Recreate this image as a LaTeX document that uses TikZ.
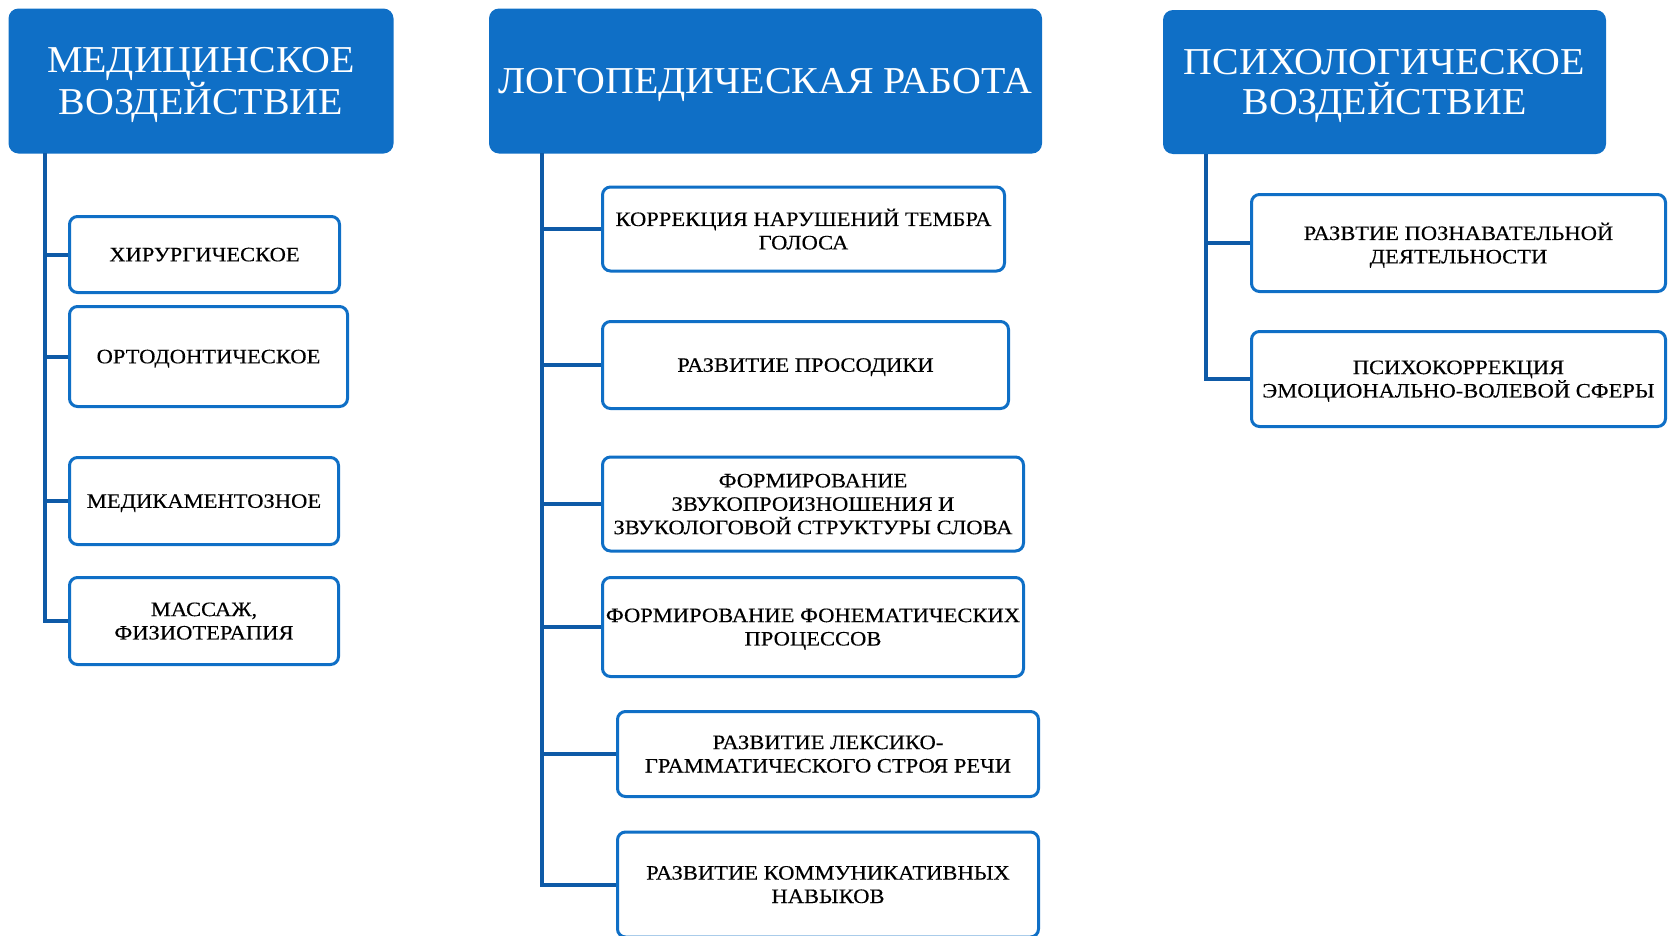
\documentclass[tikz,border=0pt]{standalone}
\usepackage{fontspec}
\setmainfont{Liberation Serif}[FakeStretch=1.1, FakeBold=0.3]
\newfontfamily\headfont{Liberation Serif}[FakeStretch=1.05]
\definecolor{hdrblue}{HTML}{0F6FC6}
\definecolor{lineblue}{HTML}{0E5AA7}
\tikzset{
  head/.style={fill=hdrblue, text=white, rounded corners=10pt, inner sep=0pt,
    align=center, text depth=0pt, font=\headfont\fontsize{38}{39.4}\selectfont},
  item/.style={draw=hdrblue, line width=3pt, fill=white, rounded corners=8pt,
    inner sep=0pt, align=center, text depth=0pt,
    font=\fontsize{20.5}{23.4}\selectfont},
  conn/.style={draw=lineblue, line width=4pt}
}
\begin{document}
\begin{tikzpicture}[x=1pt, y=-1pt]
  \clip (0,0) rectangle (1669,935);
  \node[head, minimum width=385pt, minimum height=145pt] (med) at (201,81)
    {МЕДИЦИНСКОЕ\\ВОЗДЕЙСТВИЕ};
  \node[head, minimum width=553pt, minimum height=145pt] (logo) at (765.5,81)
    {ЛОГОПЕДИЧЕСКАЯ РАБОТА};
  \node[head, minimum width=443pt, minimum height=144pt] (psy) at (1384.5,82)
    {ПСИХОЛОГИЧЕСКОЕ\\ВОЗДЕЙСТВИЕ};

  \node[item, minimum width=270pt, minimum height=76pt] (m1) at (204.5,254.5)
    {ХИРУРГИЧЕСКОЕ};
  \node[item, minimum width=278pt, minimum height=100pt] (m2) at (208.5,356.5)
    {ОРТОДОНТИЧЕСКОЕ};
  \node[item, minimum width=269pt, minimum height=87pt] (m3) at (204,501)
    {МЕДИКАМЕНТОЗНОЕ};
  \node[item, minimum width=269pt, minimum height=87pt] (m4) at (204,621)
    {МАССАЖ,\\ФИЗИОТЕРАПИЯ};

  \node[item, minimum width=402pt, minimum height=84pt] (l1) at (803.5,229)
    {КОРРЕКЦИЯ НАРУШЕНИЙ ТЕМБРА\\ГОЛОСА};
  \node[item, minimum width=406pt, minimum height=87pt] (l2) at (805.5,365)
    {РАЗВИТИЕ ПРОСОДИКИ};
  \node[item, minimum width=421pt, minimum height=94pt] (l3) at (813,504)
    {ФОРМИРОВАНИЕ\\ЗВУКОПРОИЗНОШЕНИЯ И\\ЗВУКОЛОГОВОЙ СТРУКТУРЫ СЛОВА};
  \node[item, minimum width=421pt, minimum height=99pt] (l4) at (813,627)
    {ФОРМИРОВАНИЕ ФОНЕМАТИЧЕСКИХ\\ПРОЦЕССОВ};
  \node[item, minimum width=421pt, minimum height=85pt] (l5) at (828,754)
    {РАЗВИТИЕ ЛЕКСИКО-\\ГРАММАТИЧЕСКОГО СТРОЯ РЕЧИ};
  \node[item, minimum width=421pt, minimum height=105pt] (l6) at (828,884.5)
    {РАЗВИТИЕ КОММУНИКАТИВНЫХ\\НАВЫКОВ};

  \node[item, minimum width=414pt, minimum height=97pt] (r1) at (1458.5,243)
    {РАЗВТИЕ ПОЗНАВАТЕЛЬНОЙ\\ДЕЯТЕЛЬНОСТИ};
  \node[item, minimum width=414pt, minimum height=95pt] (r2) at (1458.5,379)
    {ПСИХОКОРРЕКЦИЯ\\ЭМОЦИОНАЛЬНО-ВОЛЕВОЙ СФЕРЫ};

  \coordinate (mt) at (44.7,153);
  \coordinate (lt) at (542,153);
  \coordinate (rt) at (1206,154);
  \draw[conn] (mt) |- (m4.west);
  \draw[conn] (lt) |- (l6.west);
  \draw[conn] (rt) |- (r2.west);
  \foreach \b in {m1,m2,m3} \draw[conn] (\b.west) -- (\b.west -| mt);
  \foreach \b in {l1,l2,l3,l4,l5} \draw[conn] (\b.west) -- (\b.west -| lt);
  \draw[conn] (r1.west) -- (r1.west -| rt);
\end{tikzpicture}
\end{document}
